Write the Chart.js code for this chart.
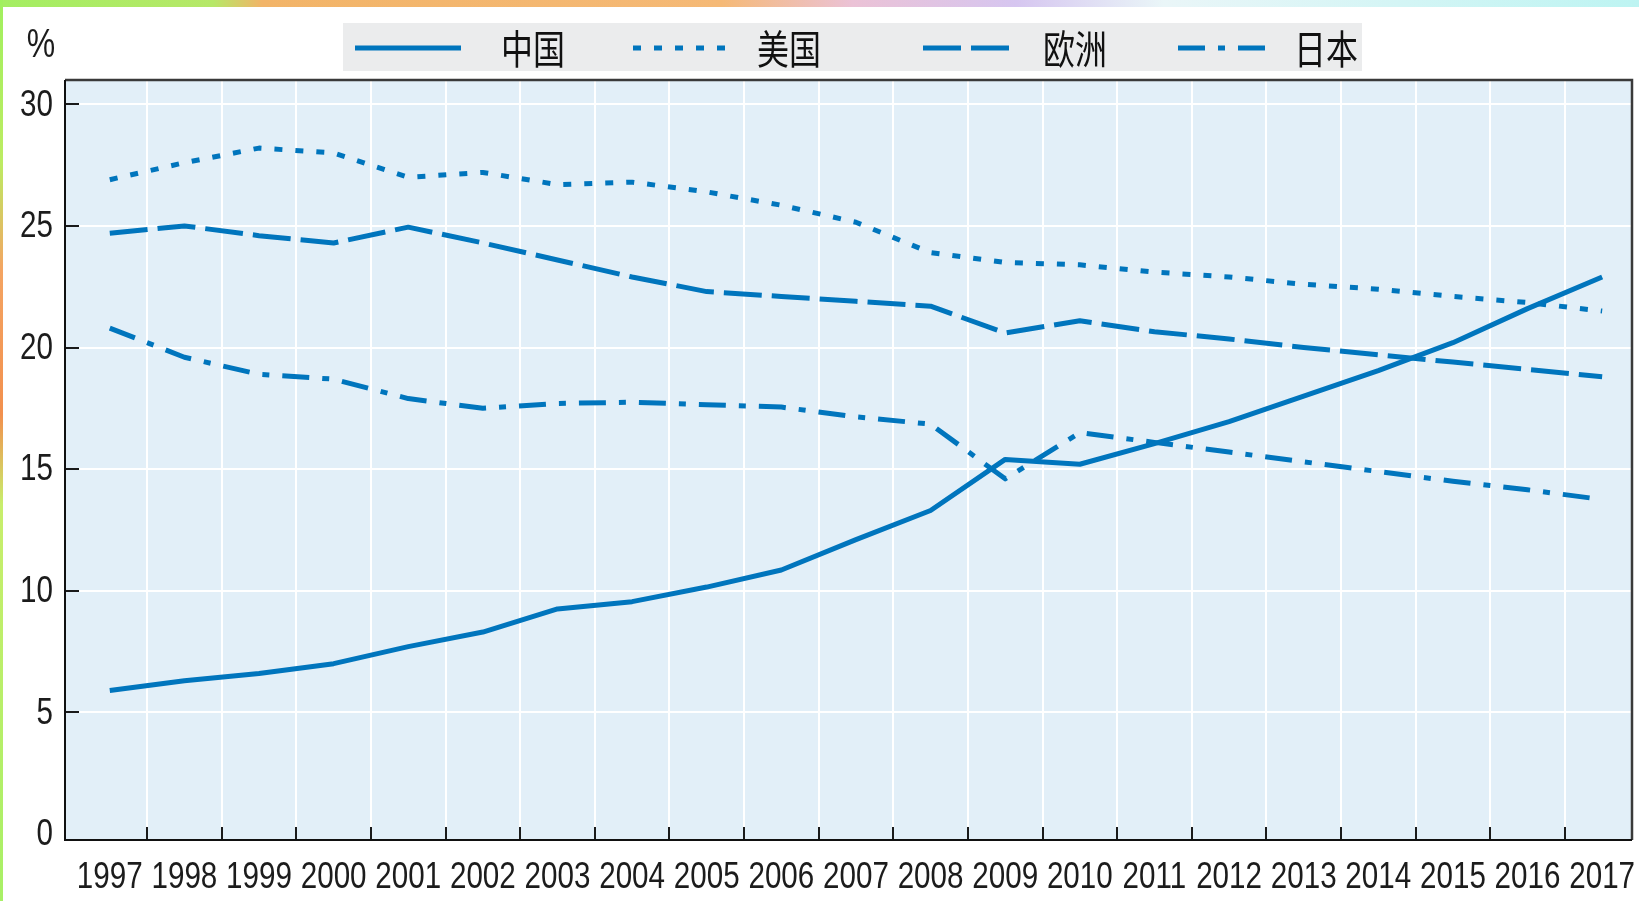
<!DOCTYPE html>
<html lang="zh">
<head>
<meta charset="utf-8">
<title>中国 美国 欧洲 日本</title>
<script src="https://cdn.jsdelivr.net/npm/chart.js@4.4.1/dist/chart.umd.min.js"></script>
<style>
  html, body { margin: 0; padding: 0; background: #fff; }
  body { width: 1639px; height: 901px; position: relative; overflow: hidden; }
  .strip-top {
    position: absolute; left: 0; top: 0; width: 1639px; height: 7px;
    background: linear-gradient(90deg, #a4ee62 0%, #b6e868 13%, #f2b468 16%, #f5b976 44%,
      #ebc2d6 52%, #d6c6f0 62%, #eaf6f8 71%, #bdf4f2 100%);
  }
  .strip-left {
    position: absolute; left: 0; top: 0; width: 3px; height: 901px;
    background: linear-gradient(180deg, #a0f05e 0%, #bcec62 18%, #f4a462 30%, #f2904e 46%,
      #c8ee6c 56%, #a8f066 100%);
  }
  #chart { position: absolute; left: 0; top: 0; }
</style>
</head>
<body>
<div class="strip-top"></div>
<div class="strip-left"></div>
<canvas id="chart" width="1639" height="901"></canvas>
<script>
// =============================
// Data
// =============================
const years = [1997, 1998, 1999, 2000, 2001, 2002, 2003, 2004, 2005, 2006, 2007,
               2008, 2009, 2010, 2011, 2012, 2013, 2014, 2015, 2016, 2017];
const yTicks = [0, 5, 10, 15, 20, 25, 30];

const seriesNames = ["中国", "美国", "欧洲", "日本"];
const china = [5.9, 6.3, 6.6, 7.0, 7.7, 8.3, 9.25, 9.55, 10.15, 10.85, 12.1,
               13.3, 15.4, 15.2, 16.05, 16.95, 18.0, 19.05, 20.2, 21.6, 22.9];
const usa   = [26.9, 27.6, 28.2, 28.0, 27.0, 27.2, 26.7, 26.8, 26.4, 25.85, 25.15,
               23.9, 23.5, 23.4, 23.1, 22.9, 22.6, 22.4, 22.1, 21.85, 21.5];
const europe = [24.7, 25.0, 24.6, 24.3, 24.95, 24.3, 23.6, 22.9, 22.3, 22.1, 21.9,
                21.7, 20.6, 21.1, 20.65, 20.35, 20.0, 19.7, 19.4, 19.1, 18.8];
const japan = [20.8, 19.6, 18.9, 18.7, 17.9, 17.5, 17.7, 17.75, 17.65, 17.55, 17.15,
               16.85, 14.6, 16.5, 16.1, 15.7, 15.3, 14.9, 14.5, 14.15, 13.75];

// =============================
// Styles
// =============================
const LINE_BLUE = "#0075bd";
const TEXT_COLOR = "#1c1c1c";
const SANS = '"Liberation Sans", Arial, sans-serif';
const CJK = '"Noto Sans CJK SC", "Noto Sans CJK JP", sans-serif';
const SQUEEZE = 0.8;   // narrow look of the original type

// legend sample / text positions (style only)
const legendBox = { x: 343, y: 23, w: 1019, h: 48 };
const legendSlots = [
  { x: 355, w: 106, tx: 501 },
  { x: 633, w: 97, tx: 757 },
  { x: 923, w: 92, tx: 1043 },
  { x: 1178, w: 91, tx: 1294 }
];

function toPoints(values) {
  return years.map((yr, i) => ({ x: yr, y: values[i] }));
}

function lineSet(label, values, dash) {
  return {
    label: label,
    data: toPoints(values),
    borderColor: LINE_BLUE,
    borderWidth: 5,
    borderDash: dash,
    borderCapStyle: "butt",
    borderJoinStyle: "round",
    pointRadius: 0,
    tension: 0,
    fill: false
  };
}

function squeezedText(ctx, text, x, y, align, scaleX) {
  ctx.save();
  ctx.translate(x, y);
  ctx.scale(scaleX, 1);
  ctx.textAlign = align;
  ctx.fillText(text, 0, 0);
  ctx.restore();
}

// =============================
// Plot decoration plugin
// =============================
const plotDecor = {
  id: "plotDecor",
  beforeDraw(chart) {
    const { ctx, chartArea: a } = chart;
    ctx.save();
    ctx.fillStyle = "#e2eff8";
    ctx.fillRect(a.left, a.top, a.right - a.left, a.bottom - a.top);
    ctx.restore();
  },
  beforeDatasetsDraw(chart) {
    const { ctx, chartArea: a, scales } = chart;
    ctx.save();
    // white vertical grid between the years
    ctx.strokeStyle = "#ffffff";
    ctx.lineWidth = 2;
    years.slice(0, -1).forEach(yr => {
      const x = Math.round(scales.x.getPixelForValue(yr + 0.5));
      ctx.beginPath();
      ctx.moveTo(x, a.top);
      ctx.lineTo(x, a.bottom);
      ctx.stroke();
    });
    // inward tick marks
    ctx.strokeStyle = "#1a1a1a";
    years.slice(0, -1).forEach(yr => {
      const x = Math.round(scales.x.getPixelForValue(yr + 0.5));
      ctx.beginPath();
      ctx.moveTo(x, a.bottom);
      ctx.lineTo(x, a.bottom - 13);
      ctx.stroke();
    });
    yTicks.forEach(v => {
      if (v === 0) return;
      const y = Math.round(scales.y.getPixelForValue(v));
      ctx.beginPath();
      ctx.moveTo(a.left, y);
      ctx.lineTo(a.left + 14, y);
      ctx.stroke();
    });
    ctx.restore();
  },
  afterDatasetsDraw(chart) {
    const { ctx, chartArea: a } = chart;
    ctx.save();
    ctx.lineWidth = 2.5;
    ctx.strokeStyle = "#3a3a3a";
    ctx.beginPath();
    ctx.moveTo(a.left, a.top);
    ctx.lineTo(a.right, a.top);
    ctx.lineTo(a.right, a.bottom);
    ctx.stroke();
    ctx.strokeStyle = "#111";
    ctx.lineWidth = 2;
    ctx.beginPath();
    ctx.moveTo(a.left, a.top);
    ctx.lineTo(a.left, a.bottom);
    ctx.lineTo(a.right, a.bottom);
    ctx.stroke();
    ctx.restore();
  },
  afterDraw(chart) {
    const { ctx, chartArea: a, scales } = chart;
    ctx.save();

    // tick labels, narrow
    ctx.fillStyle = TEXT_COLOR;
    ctx.font = "37px " + SANS;
    ctx.textBaseline = "middle";
    years.forEach(yr => {
      squeezedText(ctx, String(yr), scales.x.getPixelForValue(yr), a.bottom + 38, "center", SQUEEZE);
    });
    yTicks.forEach(v => {
      squeezedText(ctx, String(v), a.left - 12, scales.y.getPixelForValue(v) + 1, "right", SQUEEZE);
    });
    ctx.font = "40px " + SANS;
    squeezedText(ctx, "%", 41, 46, "center", SQUEEZE);

    // legend
    ctx.fillStyle = "#ebeced";
    ctx.fillRect(legendBox.x, legendBox.y, legendBox.w, legendBox.h);
    const midY = legendBox.y + legendBox.h / 2 + 1;
    chart.data.datasets.forEach((ds, i) => {
      const slot = legendSlots[i];
      ctx.strokeStyle = ds.borderColor;
      ctx.lineWidth = 5;
      ctx.lineCap = "butt";
      ctx.setLineDash(ds.borderDash || []);
      ctx.beginPath();
      ctx.moveTo(slot.x, midY);
      ctx.lineTo(slot.x + slot.w, midY);
      ctx.stroke();
      ctx.setLineDash([]);

      ctx.fillStyle = "#111";
      ctx.font = "40px " + CJK;
      ctx.textBaseline = "middle";
      squeezedText(ctx, ds.label, slot.tx, midY + 1, "left", 0.8);
    });
    ctx.restore();
  }
};

// =============================
// Chart
// =============================
const ctx = document.getElementById("chart");

new Chart(ctx, {
  type: "line",
  data: {
    datasets: [
      lineSet(seriesNames[0], china, []),
      lineSet(seriesNames[1], usa, [8, 13]),
      lineSet(seriesNames[2], europe, [38, 10]),
      lineSet(seriesNames[3], japan, [27, 13, 7, 13])
    ]
  },
  options: {
    responsive: false,
    animation: false,
    layout: { padding: { top: 80, right: 7, left: 0, bottom: 0 } },
    plugins: {
      legend: { display: false },
      tooltip: { enabled: false }
    },
    scales: {
      x: {
        type: "linear",
        min: 1996.4,
        max: 2017.4,
        afterBuildTicks: scale => { scale.ticks = years.map(v => ({ value: v })); },
        afterFit: scale => { scale.height = 61; },
        grid: { display: false },
        border: { display: false },
        ticks: { display: false }
      },
      y: {
        min: -0.25,
        max: 31,
        afterBuildTicks: scale => { scale.ticks = yTicks.map(v => ({ value: v })); },
        afterFit: scale => { scale.width = 65; },
        grid: {
          color: c => (c.tick && c.tick.value === 0) ? "rgba(0,0,0,0)" : "#ffffff",
          lineWidth: 2,
          drawTicks: false
        },
        border: { display: false },
        ticks: { display: false }
      }
    }
  },
  plugins: [plotDecor]
});
</script>
</body>
</html>
